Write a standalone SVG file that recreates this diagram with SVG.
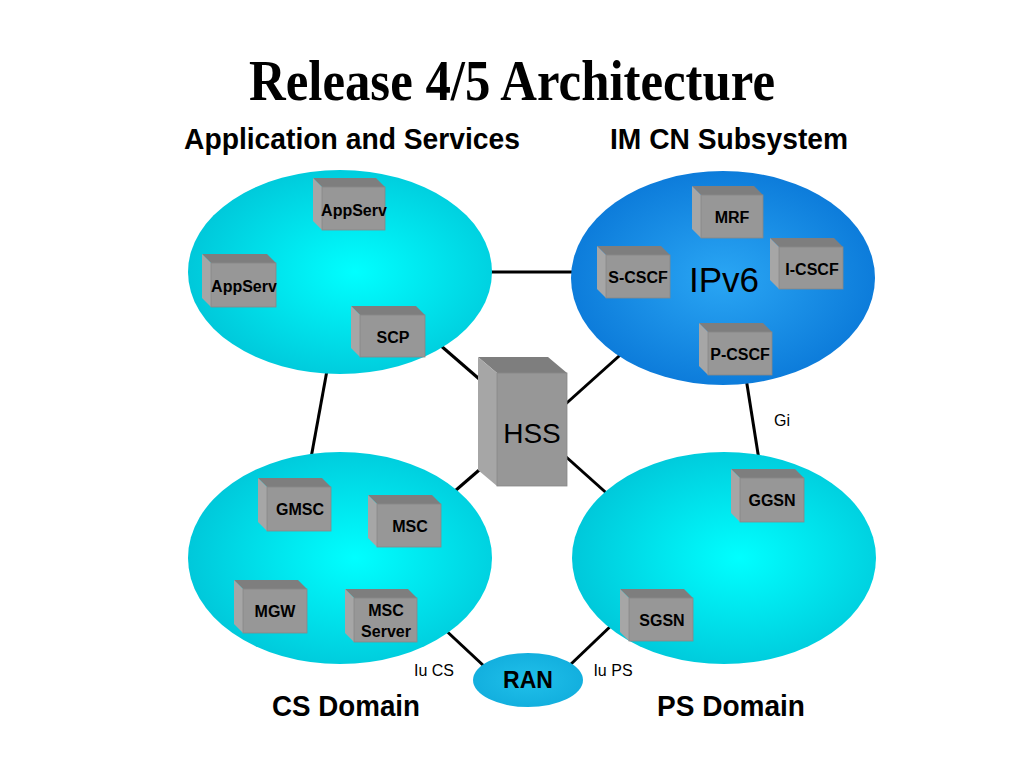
<svg xmlns="http://www.w3.org/2000/svg" width="1024" height="768" viewBox="0 0 1024 768">
<defs>
<radialGradient id="cyan" cx="0.55" cy="0.5" r="0.55">
<stop offset="0" stop-color="#00FFFF"/>
<stop offset="1" stop-color="#00C8DA"/>
</radialGradient>
<radialGradient id="blue" cx="0.5" cy="0.5" r="0.55">
<stop offset="0" stop-color="#2AA6F4"/>
<stop offset="1" stop-color="#0A78D8"/>
</radialGradient>
<radialGradient id="ran" cx="0.5" cy="0.5" r="0.6">
<stop offset="0" stop-color="#20C0EA"/>
<stop offset="1" stop-color="#10ACDC"/>
</radialGradient>
</defs>
<style>
.top{fill:#7E7E7E;}
.side{fill:#A6A6A6;}
.front{fill:#979797;stroke:#888;stroke-width:0.8;}
.bl{font-family:"Liberation Sans",Arial,sans-serif;font-weight:bold;font-size:16px;fill:#000;text-anchor:middle;}
.lbl{font-family:"Liberation Sans",Arial,sans-serif;font-size:16px;fill:#000;text-anchor:middle;}
.hd{font-family:"Liberation Sans",Arial,sans-serif;font-weight:bold;font-size:29px;fill:#000;text-anchor:middle;}
.conn line{stroke:#000;stroke-width:3;}
</style>
<rect width="1024" height="768" fill="#fff"/>
<text x="512" y="100" font-family="'Liberation Serif','Times New Roman',serif" font-weight="bold" font-size="58" text-anchor="middle" textLength="526" lengthAdjust="spacingAndGlyphs">Release 4/5 Architecture</text>
<text class="hd" x="352" y="149" textLength="336" lengthAdjust="spacingAndGlyphs">Application and Services</text>
<text class="hd" x="729" y="149" textLength="238" lengthAdjust="spacingAndGlyphs">IM CN Subsystem</text>
<text class="hd" x="346" y="716" textLength="148" lengthAdjust="spacingAndGlyphs">CS Domain</text>
<text class="hd" x="731" y="716" textLength="148" lengthAdjust="spacingAndGlyphs">PS Domain</text>

<g id="connectors" class="conn">
<line x1="480" y1="272" x2="585" y2="272"/>
<line x1="328" y1="365" x2="311" y2="458"/>
<line x1="746" y1="378" x2="759" y2="460"/>
<line x1="440" y1="345" x2="500" y2="397"/>
<line x1="628" y1="348" x2="550" y2="418"/>
<line x1="448" y1="497" x2="500" y2="452"/>
<line x1="612" y1="498" x2="545" y2="438"/>
<line x1="440" y1="625" x2="485" y2="667"/>
<line x1="615" y1="622" x2="570" y2="665"/>
</g>
<text class="lbl" x="434" y="676">Iu CS</text>
<text class="lbl" x="613" y="676">Iu PS</text>
<text class="lbl" x="782" y="426">Gi</text>

<g id="app-services"><ellipse cx="340" cy="272" rx="152" ry="102" fill="url(#cyan)"/></g>
<g id="imcn"><ellipse cx="723" cy="278" rx="152" ry="107" fill="url(#blue)"/>
<text x="724" y="292" font-family="'Liberation Sans',Arial,sans-serif" font-size="35" text-anchor="middle">IPv6</text></g>
<g id="cs-domain"><ellipse cx="340" cy="558" rx="152" ry="106" fill="url(#cyan)"/></g>
<g id="ps-domain"><ellipse cx="724" cy="558" rx="152" ry="106" fill="url(#cyan)"/></g>
<g id="ran"><ellipse cx="528" cy="680" rx="55" ry="27" fill="url(#ran)"/>
<text class="bl" x="528" y="688" style="font-size:23px">RAN</text></g>

<g id="hss">
<polygon class="top" points="478,357 548,357 567,373 497,373"/>
<polygon class="side" points="478,357 497,373 497,486 478,470"/>
<rect class="front" x="497" y="373" width="70" height="113"/>
<text x="532" y="443" font-family="'Liberation Sans',Arial,sans-serif" font-size="28" text-anchor="middle">HSS</text>
</g>

<g id="appserv1">
<polygon class="top" points="313,178 376,178 385,187 322,187"/>
<polygon class="side" points="313,178 322,187 322,230 313,221"/>
<rect class="front" x="322" y="187" width="63" height="43"/>
<text class="bl" x="354" y="216">AppServ</text>
</g>
<g id="appserv2">
<polygon class="top" points="202,254 267,254 276,263 211,263"/>
<polygon class="side" points="202,254 211,263 211,307 202,298"/>
<rect class="front" x="211" y="263" width="65" height="44"/>
<text class="bl" x="244" y="292">AppServ</text>
</g>
<g id="scp">
<polygon class="top" points="351,306 416,306 425,315 360,315"/>
<polygon class="side" points="351,306 360,315 360,357 351,348"/>
<rect class="front" x="360" y="315" width="65" height="42"/>
<text class="bl" x="393" y="343">SCP</text>
</g>
<g id="mrf">
<polygon class="top" points="692,186 754,186 763,195 701,195"/>
<polygon class="side" points="692,186 701,195 701,238 692,229"/>
<rect class="front" x="701" y="195" width="62" height="43"/>
<text class="bl" x="732" y="223">MRF</text>
</g>
<g id="scscf">
<polygon class="top" points="597,246 661,246 670,255 606,255"/>
<polygon class="side" points="597,246 606,255 606,298 597,289"/>
<rect class="front" x="606" y="255" width="64" height="43"/>
<text class="bl" x="638" y="283">S-CSCF</text>
</g>
<g id="icscf">
<polygon class="top" points="770,238 834,238 843,247 779,247"/>
<polygon class="side" points="770,238 779,247 779,289 770,280"/>
<rect class="front" x="779" y="247" width="64" height="42"/>
<text class="bl" x="812" y="275">I-CSCF</text>
</g>
<g id="pcscf">
<polygon class="top" points="699,323 763,323 772,332 708,332"/>
<polygon class="side" points="699,323 708,332 708,375 699,366"/>
<rect class="front" x="708" y="332" width="64" height="43"/>
<text class="bl" x="740" y="360">P-CSCF</text>
</g>
<g id="gmsc">
<polygon class="top" points="258,478 322,478 331,487 267,487"/>
<polygon class="side" points="258,478 267,487 267,531 258,522"/>
<rect class="front" x="267" y="487" width="64" height="44"/>
<text class="bl" x="300" y="515">GMSC</text>
</g>
<g id="msc">
<polygon class="top" points="368,495 432,495 441,504 377,504"/>
<polygon class="side" points="368,495 377,504 377,547 368,538"/>
<rect class="front" x="377" y="504" width="64" height="43"/>
<text class="bl" x="410" y="532">MSC</text>
</g>
<g id="mgw">
<polygon class="top" points="234,580 298,580 307,589 243,589"/>
<polygon class="side" points="234,580 243,589 243,633 234,624"/>
<rect class="front" x="243" y="589" width="64" height="44"/>
<text class="bl" x="275" y="617">MGW</text>
</g>
<g id="msc-server">
<polygon class="top" points="345,589 408,589 417,598 354,598"/>
<polygon class="side" points="345,589 354,598 354,642 345,633"/>
<rect class="front" x="354" y="598" width="63" height="44"/>
<text class="bl" x="386" y="616">MSC</text>
<text class="bl" x="386" y="637">Server</text>
</g>
<g id="ggsn">
<polygon class="top" points="731,469 795,469 804,478 740,478"/>
<polygon class="side" points="731,469 740,478 740,522 731,513"/>
<rect class="front" x="740" y="478" width="64" height="44"/>
<text class="bl" x="772" y="506">GGSN</text>
</g>
<g id="sgsn">
<polygon class="top" points="620,589 684,589 693,598 629,598"/>
<polygon class="side" points="620,589 629,598 629,641 620,632"/>
<rect class="front" x="629" y="598" width="64" height="43"/>
<text class="bl" x="662" y="626">SGSN</text>
</g>
</svg>
